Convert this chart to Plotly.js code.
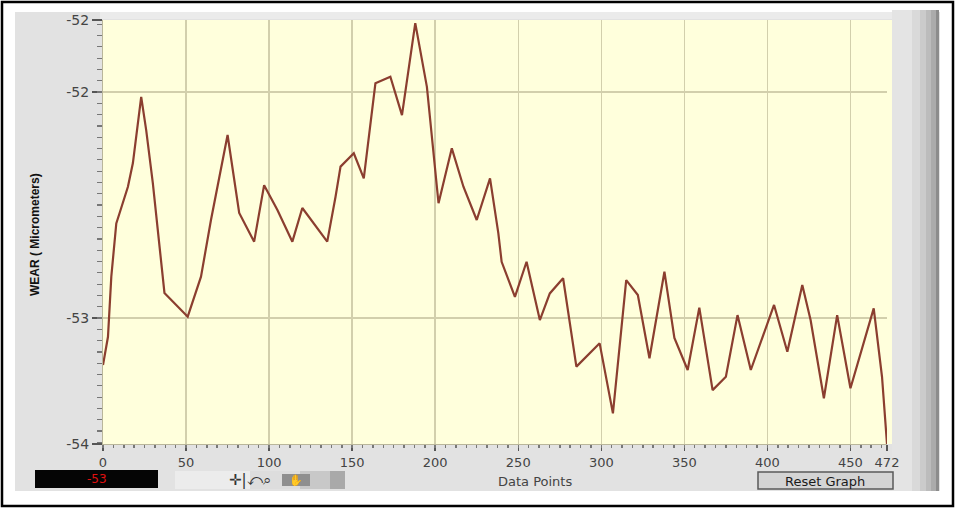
<!DOCTYPE html>
<html>
<head>
<meta charset="utf-8">
<script src="https://cdn.plot.ly/plotly-3.0.1.min.js"></script>
<style>
  html, body { margin: 0; padding: 0; background: #ffffff; }
  #chart { width: 956px; height: 508px; }
</style>
</head>
<body>
<div id="chart"></div>
<script>
// ---- data ----
const dataPoints = [0, 3, 5, 8, 10, 15, 18, 23, 26, 30, 37, 51, 59, 65, 75, 82, 91, 97, 105, 114,
  120, 135, 140, 143, 151, 157, 164, 173, 180, 188, 195, 202, 210, 217, 225, 233, 238, 240, 248, 255,
  263, 269, 277, 285, 299, 307, 315, 322, 329, 338, 344, 352, 359, 367, 375, 382, 390, 404, 412, 421,
  426, 434, 442, 450, 464, 469, 472];
const wear = [-53.208, -53.083, -52.817, -52.581, -52.535, -52.419, -52.314, -52.021, -52.168, -52.403,
  -52.889, -52.994, -52.817, -52.566, -52.190, -52.535, -52.662, -52.412, -52.522, -52.662,
  -52.513, -52.662, -52.463, -52.330, -52.271, -52.382, -51.961, -51.932, -52.102, -51.695,
  -51.977, -52.492, -52.249, -52.419, -52.566, -52.382, -52.624, -52.751, -52.906, -52.751,
  -53.009, -52.891, -52.824, -53.215, -53.112, -53.422, -52.832, -52.898, -53.178, -52.795,
  -53.088, -53.230, -52.954, -53.319, -53.260, -52.987, -53.230, -52.942, -53.149, -52.854,
  -53.009, -53.355, -52.987, -53.311, -52.957, -53.260, -53.557];
const xTickVals = [0, 50, 100, 150, 200, 250, 300, 350, 400, 450, 472];
const xTickText = ['0', '50', '100', '150', '200', '250', '300', '350', '400', '450', '472'];
const yTickVals = [-53.5575, -53, -52, -51.681];
const yTickText = ['-54', '-53', '-52', '-52'];
const yRange = [-53.5575, -51.681];
const xRange = [0, 472];
const xMinorStep = 6.25;
const yMinorStep = 0.05;
const cursorValue = '-53';

// ---- layout helpers (pixel -> paper) ----
const W = 956, H = 508, L = 103, R = 69, T = 20, B = 64;
const PW = W - L - R, PH = H - T - B;
const px = v => (v - L) / PW;
const py = v => (H - B - v) / PH;
function rect(x0, y0, x1, y1, fill, line, lw) {
  return { type: 'rect', xref: 'paper', yref: 'paper', layer: 'below',
    x0: px(x0), x1: px(x1), y0: py(y1), y1: py(y0),
    fillcolor: fill, line: { color: line || 'rgba(0,0,0,0)', width: lw || 0 } };
}

const shapes = [
  // white surround outside the grey front panel
  rect(0, 0, 956, 12, '#ffffff'),
  rect(0, 491, 956, 508, '#ffffff'),
  rect(0, 0, 15, 508, '#ffffff'),
  rect(940, 0, 956, 508, '#ffffff'),
  // thin light band above the plot and yellow extension right of x = 472
  rect(100, 12, 892, 19, '#ebebeb'),
  rect(887, 20, 892, 444, '#ffffdc'),
  // right gradient strip
  rect(892, 10, 912, 491, '#e4e4e4'),
  rect(912, 10, 920, 491, '#d9d9d9'),
  rect(920, 10, 926, 491, '#cbcbcb'),
  rect(926, 10, 931, 491, '#bcbcbc'),
  rect(931, 10, 936, 491, '#ababab'),
  rect(936, 10, 939, 491, '#8c8c8c'),
  // cursor value box
  rect(35, 470, 158, 488, '#050505'),
  // tool palette button
  rect(175, 471, 250, 489, '#ececec'),
  rect(250, 471, 300, 489, '#dddddd'),
  rect(300, 471, 330, 489, '#c8c8c8'),
  rect(330, 471, 345, 489, '#a9a9a9'),
  rect(282, 474, 310, 486, '#8f8f8f'),
  // reset button
  rect(758, 472, 893, 489, '#d4d4d4', '#5a5a5a', 1.5),
  // outer frame
  { type: 'rect', xref: 'paper', yref: 'paper', layer: 'above',
    x0: px(2), x1: px(953), y0: py(506), y1: py(2),
    fillcolor: 'rgba(0,0,0,0)', line: { color: '#000000', width: 2.5 } }
];

const annotations = [
  { text: '<b>WEAR ( Micrometers)</b>', xref: 'paper', yref: 'paper', x: px(35), y: py(235),
    textangle: -90, showarrow: false, xanchor: 'center', yanchor: 'middle',
    font: { family: 'Liberation Sans Narrow, Arial Narrow, sans-serif', size: 12, color: '#111111' } },
  { text: cursorValue, xref: 'paper', yref: 'paper', x: px(97), y: py(479), showarrow: false,
    xanchor: 'center', yanchor: 'middle',
    font: { family: 'DejaVu Sans, sans-serif', size: 12, color: '#e01010' } },
  { text: '✛|⤺⌕', xref: 'paper', yref: 'paper', x: px(250), y: py(480), showarrow: false,
    xanchor: 'center', yanchor: 'middle',
    font: { family: 'DejaVu Sans, sans-serif', size: 15, color: '#333333' } },
  { text: '✋', xref: 'paper', yref: 'paper', x: px(296), y: py(480), showarrow: false,
    xanchor: 'center', yanchor: 'middle',
    font: { family: 'DejaVu Sans, sans-serif', size: 11, color: '#f4f4f4' } },
  { text: 'Data Points', xref: 'paper', yref: 'paper', x: px(535), y: py(481), showarrow: false,
    xanchor: 'center', yanchor: 'middle',
    font: { family: 'DejaVu Sans, sans-serif', size: 13, color: '#444444' } },
  { text: 'Reset Graph', xref: 'paper', yref: 'paper', x: px(825), y: py(481), showarrow: false,
    xanchor: 'center', yanchor: 'middle',
    font: { family: 'DejaVu Sans, sans-serif', size: 13, color: '#1a1a1a' } }
];

const trace = {
  x: dataPoints, y: wear, type: 'scatter', mode: 'lines',
  line: { color: '#8b3e2f', width: 2.2 }, hoverinfo: 'skip'
};
// invisible copy bound to the minor-tick overlay axes so they are drawn
const ghost = {
  x: dataPoints, y: wear, type: 'scatter', mode: 'lines', xaxis: 'x2', yaxis: 'y2',
  line: { color: 'rgba(0,0,0,0)', width: 0 }, hoverinfo: 'skip', showlegend: false
};

const tickFont = { family: 'DejaVu Sans, sans-serif', size: 13, color: '#444444' };

const layout = {
  width: W, height: H,
  margin: { l: L, r: R, t: T, b: B, pad: 0 },
  paper_bgcolor: '#e2e2e2',
  plot_bgcolor: '#ffffdc',
  showlegend: false,
  xaxis: {
    range: xRange, tickmode: 'array', tickvals: xTickVals, ticktext: xTickText,
    showgrid: true, gridcolor: '#d2cfac', gridwidth: 1.5,
    zeroline: false, showline: true, linecolor: '#b9b69a', linewidth: 1,
    ticks: 'outside', ticklen: 6, tickwidth: 1.5, tickcolor: '#555555', tickfont: tickFont,
    fixedrange: true
  },
  yaxis: {
    range: yRange, tickmode: 'array', tickvals: yTickVals, ticktext: yTickText,
    showgrid: true, gridcolor: '#d2cfac', gridwidth: 1.5,
    zeroline: false, showline: true, linecolor: '#b9b69a', linewidth: 1,
    ticks: 'outside', ticklen: 10, tickwidth: 1.5, tickcolor: '#555555',
    tickfont: { family: 'DejaVu Sans, sans-serif', size: 14, color: '#444444' },
    fixedrange: true
  },
  xaxis2: {
    overlaying: 'x', anchor: 'y2', side: 'bottom', range: xRange,
    tickmode: 'linear', tick0: 0, dtick: xMinorStep,
    ticks: 'outside', ticklen: 3, tickwidth: 1.5, tickcolor: '#777777', showticklabels: false,
    showgrid: false, zeroline: false, showline: false, fixedrange: true
  },
  yaxis2: {
    overlaying: 'y', anchor: 'x2', side: 'left', range: yRange,
    tickmode: 'linear', tick0: -53, dtick: yMinorStep,
    ticks: 'outside', ticklen: 5, tickwidth: 1.2, tickcolor: '#777777', showticklabels: false,
    showgrid: false, zeroline: false, showline: false, fixedrange: true
  },
  shapes: shapes,
  annotations: annotations
};

Plotly.newPlot('chart', [ghost, trace], layout, { staticPlot: true, displayModeBar: false });
</script>
</body>
</html>
